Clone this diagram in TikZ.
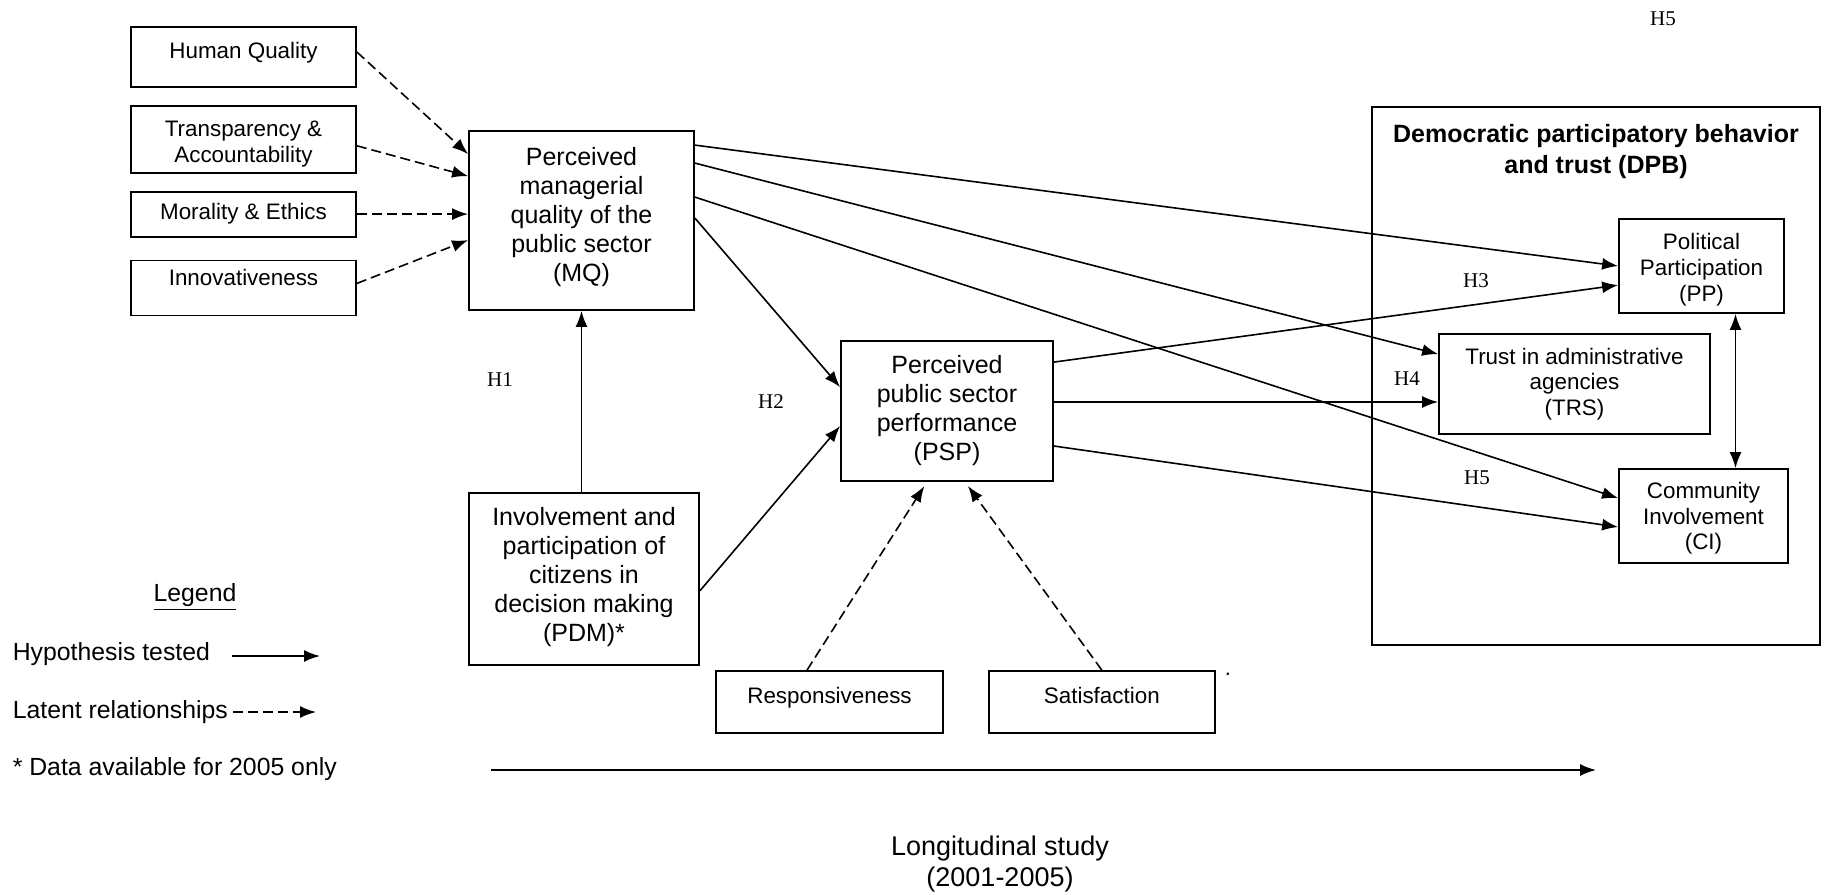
\documentclass[tikz,border=0pt]{standalone}
\usepackage{fontspec}
\setmainfont{Liberation Sans}
\newfontfamily\hfont{Liberation Serif}
\usepackage{tikz}
\usetikzlibrary{arrows.meta,positioning}

\tikzset{
  box/.style={draw, line width=0.9pt, align=center, inner sep=2pt},
  inbox/.style={box, minimum width=112.5pt, font=\fontsize{11.2}{13}\selectfont},
  mainbox/.style={box, font=\fontsize{12.5}{14.5}\selectfont},
  dpbbox/.style={box, font=\fontsize{11.2}{12.9}\selectfont},
  hlabel/.style={font=\hfont\fontsize{10.5}{12}\selectfont, inner sep=0pt},
  legendtext/.style={font=\fontsize{12.4}{14}\selectfont, inner sep=0pt, anchor=west},
  latent/.style={->, dash pattern=on 5pt off 2.5pt},
}

\begin{document}
\begin{tikzpicture}[x=0.5pt, y=-0.5pt, >={Latex[length=8pt,width=6pt]}, line width=0.8pt]
    \useasboundingbox (0,0) rectangle (1829,894);

    %managerial quality indicators
    \node[inbox, minimum height=30pt, text depth=7pt] (hq) at (243.5,57) {Human Quality};
    \node[inbox, minimum height=33.5pt] (ta) [below=8.5pt of hq] {\rule{0pt}{13pt}Transparency \&\\ Accountability};
    \node[inbox, minimum height=22.5pt] (me) [below=8.5pt of ta] {Morality \& Ethics};
    \node[inbox, minimum height=27.5pt, text depth=10.5pt] (inn) [below=11pt of me] {Innovativeness};

    %main constructs
    \node[mainbox, minimum width=112.5pt, minimum height=89.5pt] (mq) at (581.5,220.5) {Perceived\\ managerial\\ quality of the\\ public sector\\ (MQ)\rule[-6.5pt]{0pt}{0pt}};
    \node[mainbox, minimum width=115pt, minimum height=86pt] (pdm) [below right=90.5pt and 0pt of mq.south west] {Involvement and\\ participation of\\ citizens in\\ decision making\\ (PDM)*\rule[-4.5pt]{0pt}{0pt}};
    \node[mainbox, minimum width=106pt, minimum height=70pt] (psp) at (947,411) {Perceived\\ public sector\\ performance\\ (PSP)};

    %performance indicators
    \node[inbox, minimum width=113.5pt, minimum height=31pt, text depth=7pt] (resp) at (829.5,702) {Responsiveness};
    \node[inbox, minimum width=113pt, minimum height=31pt, text depth=7pt] (sat) [right=22pt of resp] {Satisfaction};
    \node[inner sep=0pt, font=\fontsize{11}{12}\selectfont] (dot) at (1228,674) {.};

    %outcomes
    \node[draw, line width=0.9pt, minimum width=224pt, minimum height=269pt] (dpb) at (1596,376) {};
    \node[align=center, inner sep=0pt, font=\bfseries\fontsize{12.5}{15.5}\selectfont] (dpbtitle) at (1596,151.5) {Democratic participatory behavior\\ and trust (DPB)};
    \node[dpbbox, minimum width=82.5pt, minimum height=47pt] (pp) at (1701.5,266) {\rule{0pt}{12pt}Political\\ Participation\\ (PP)};
    \node[dpbbox, minimum width=135.5pt, minimum height=50pt] (trs) at (1574.5,384) {Trust in administrative\\ agencies\\ (TRS)};
    \node[dpbbox, minimum width=84.5pt, minimum height=47pt] (ci) at (1703.5,516) {\rule{0pt}{10.5pt}Community\\ Involvement\\ (CI)};

    %hypotheses
    \node[hlabel] (h5top) at (1663,19) {H5};
    \node[hlabel] (h1) at (500,380) {H1};
    \node[hlabel] (h2) at (771,402) {H2};
    \node[hlabel] (h3) at (1476,281) {H3};
    \node[hlabel] (h4) at (1407,379) {H4};
    \node[hlabel] (h5) at (1477,478) {H5};

    %legend
    \node[legendtext, anchor=center] (legendtitle) at (195,597) {\underline{Legend}};
    \node[legendtext] (hyptext) at (12,654) {Hypothesis tested};
    \node[legendtext] (lattext) at (12,712) {Latent relationships};
    \node[legendtext] (datatext) at (12,769) {* Data available for 2005 only};
    \coordinate (hyps) at (232,656);
    \coordinate (hype) at (320,656);
    \coordinate (lats) at (233,712);
    \coordinate (late) at (316,712);

    %time line
    \coordinate (tstart) at (491,770);
    \coordinate (tend) at (1596,770);
    \node[align=center, font=\fontsize{13.5}{15.5}\selectfont] (timetext) at (1000,864) {Longitudinal study\\ (2001-2005)};

    \path[latent]
     ([yshift=2.5pt]hq.east) edge ([yshift=-12pt]mq.north west)
     ([yshift=-3.25pt]ta.east) edge ([yshift=-23pt]mq.north west)
     (me.east) edge (me.east -| mq.west)
     ([yshift=2.25pt]inn.east) edge ([yshift=-55pt]mq.north west)
     ([xshift=-11.25pt]resp.north) edge[shorten >=2.5pt] ([xshift=-10pt]psp.south)
     (sat.north) edge[shorten >=2.5pt] ([xshift=9pt]psp.south)
     (lats) edge (late);

    \path[->]
     (mq.south |- pdm.north) edge (mq.south)
     ([yshift=-7.5pt]mq.north east) edge (pp.west)
     ([yshift=-16.5pt]mq.north east) edge ([yshift=-10.5pt]trs.north west)
     ([yshift=-33.5pt]mq.north east) edge ([yshift=-15pt]ci.north west)
     ([yshift=-44pt]mq.north east) edge ([yshift=-23.5pt]psp.north west)
     ([yshift=-6pt]pdm.east) edge ([yshift=-43pt]psp.north west)
     ([yshift=-11pt]psp.north east) edge ([yshift=-33.5pt]pp.north west)
     ([yshift=4.5pt]psp.east) edge ([yshift=-9pt]trs.west)
     ([yshift=-17.5pt]psp.east) edge ([yshift=-5.5pt]ci.west)
     ([xshift=17pt]pp.south) edge[<->] ([xshift=16pt]ci.north)
     (hyps) edge (hype)
     (tstart) edge (tend);

\end{tikzpicture}
\end{document}
